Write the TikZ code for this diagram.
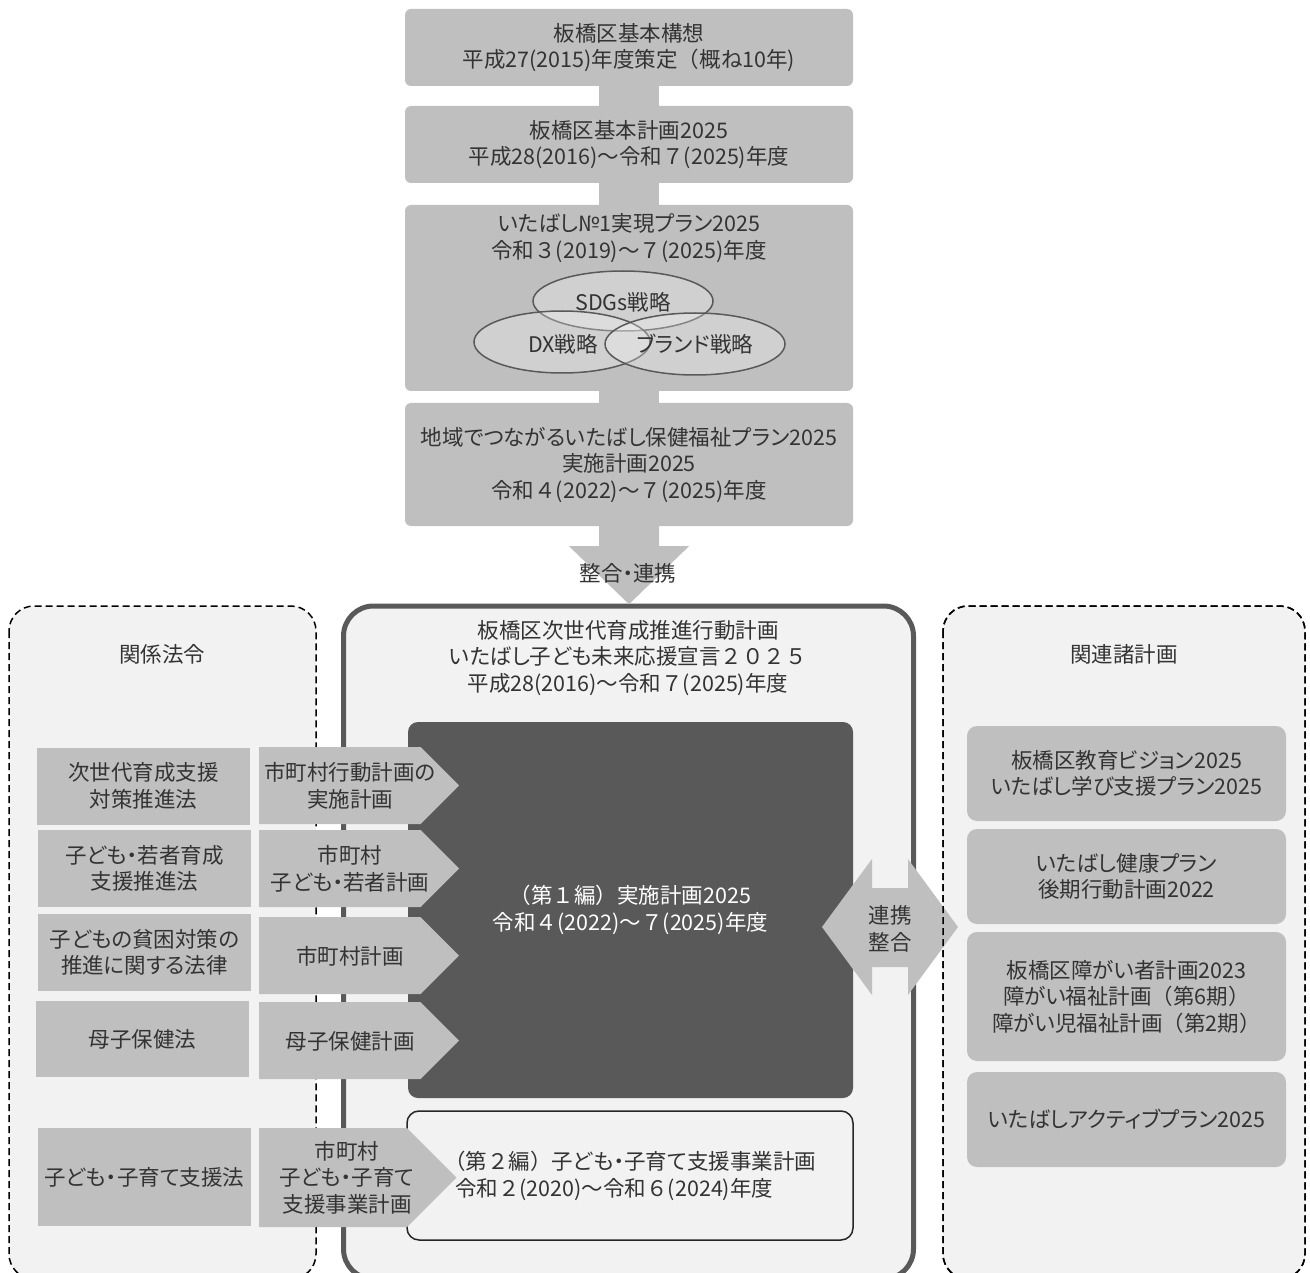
\documentclass[tikz,border=0pt]{standalone}
\usepackage{fontspec}
\newfontfamily\jp[RawFeature={+palt}]{Noto Sans CJK JP}
\newfontfamily\jpf{Noto Sans CJK JP}
\newcommand\fw[1]{{\jpf #1}}
\usetikzlibrary{calc,backgrounds}
\definecolor{boxgray}{HTML}{BFBFBF}
\definecolor{panel}{HTML}{F2F2F2}
\definecolor{dark}{HTML}{595959}
\definecolor{txt}{HTML}{333333}
\tikzset{
  t/.style={font=\jp\fontsize{21.5}{26.5}\selectfont, text=txt, align=center, inner sep=0pt},
  topbox/.style={fill=boxgray, rounded corners=6pt, minimum width=448pt, inner sep=0pt},
  lawbox/.style={fill=boxgray, minimum width=213pt, inner sep=0pt},
  rbox/.style={fill=boxgray, rounded corners=10pt, minimum width=319pt, inner sep=0pt},
  dashpanel/.style={draw=black, line width=1.5pt, dash pattern=on 7pt off 4pt, rounded corners=25pt},
  strat/.style={draw=dark, line width=1.5pt, fill=white, fill opacity=0.27},
}
\begin{document}
\begin{tikzpicture}[x=1pt,y=-1pt]
\useasboundingbox (0,0) rectangle (1310,1273);
\clip (0,0) rectangle (1310,1273);

% side and centre panels
\path[fill=panel, dashpanel] (9,606) rectangle (316,1279);
\path[fill=panel, dashpanel] (943,606) rectangle (1305,1279);
\path[fill=panel, draw=dark, line width=5pt, rounded corners=30pt] (343.5,606) rectangle (913.5,1279);
\node[t] (hl) at (162,654) {関係法令};
\node[t] (hr) at (1124,654) {関連諸計画};
\node[t] (ct) at (628,658) {板橋区次世代育成推進行動計画\\いたばし子ども未来応援宣言\fw{２０２５}\\平成28(2016)\fw{～}令和\fw{７}(2025)年度};

% inner boxes of centre panel
\node[fill=dark, rounded corners=10pt, minimum width=445pt, minimum height=376pt, inner sep=0pt] (d1) at (630.5,910) {};
\node[t, text=white] (d1t) at (630.5,910) {\fw{（}第\fw{１}編\fw{）}実施計画2025\\令和\fw{４}(2022)\fw{～７}(2025)年度};
\node[fill=panel, draw=black!85, line width=1.5pt, rounded corners=12pt, minimum width=446pt, minimum height=129pt, inner sep=0pt] (d2) at (630,1175.5) {};
\node[t, align=left, anchor=west] (d2t) at (444,1176) {\fw{（}第\fw{２}編\fw{）}子ども・子育て支援事業計画\\\hspace*{11pt}令和\fw{２}(2020)\fw{～}令和\fw{６}(2024)年度};

% laws
\node[lawbox, minimum height=77pt] (l1) at (143.5,786) {};
\node[t] at (l1) {次世代育成支援\\対策推進法};
\node[lawbox, minimum height=77pt] (l2) at (144.5,868.5) {};
\node[t] at (l2) {子ども・若者育成\\支援推進法};
\node[lawbox, minimum height=77pt] (l3) at (144.5,952.5) {};
\node[t] at (l3) {子どもの貧困対策の\\推進に関する法律};
\node[lawbox, minimum height=76pt] (l4) at (142.5,1039) {};
\node[t] at (l4) {母子保健法};
\node[lawbox, minimum height=98pt] (l5) at (144.5,1177) {};
\node[t] at (l5) {子ども・子育て支援法};

% municipal plan arrows
\fill[boxgray] (259,747) -- (420.5,747) -- (459,785.5) -- (420.5,824) -- (259,824) -- cycle;
\node[t] (a1) at (350,786) {市町村行動計画の\\実施計画};
\fill[boxgray] (259,830) -- (420.5,830) -- (459,868.5) -- (420.5,907) -- (259,907) -- cycle;
\node[t] (a2) at (350,869) {市町村\\子ども・若者計画};
\fill[boxgray] (259,917) -- (420.5,917) -- (459,955.5) -- (420.5,994) -- (259,994) -- cycle;
\node[t] (a3) at (350,956) {市町村計画};
\fill[boxgray] (259,1002) -- (420.5,1002) -- (459,1040.5) -- (420.5,1079) -- (259,1079) -- cycle;
\node[t] (a4) at (350,1041) {母子保健計画};
\fill[boxgray] (259,1128) -- (407,1128) -- (456.5,1177.5) -- (407,1227) -- (259,1227) -- cycle;
\node[t] (a5) at (347,1177.5) {市町村\\子ども・子育て\\支援事業計画};

% double arrow
\fill[boxgray] (822,927) -- (872,859) -- (872,888) -- (908,888) -- (908,859) -- (958,927) -- (908,995) -- (908,967) -- (872,967) -- (872,995) -- cycle;
\node[t] (lk) at (890,929) {連携\\整合};
\path[dashpanel] (943,606) rectangle (1305,1279);

% related plans
\node[rbox, minimum height=95pt] (r1) at (1126.5,773.5) {};
\node[t] at (r1) {板橋区教育ビジョン2025\\いたばし学び支援プラン2025};
\node[rbox, minimum height=95pt] (r2) at (1126.5,876.5) {};
\node[t] at (r2) {いたばし健康プラン\\後期行動計画2022};
\node[rbox, minimum height=129pt] (r3) at (1126.5,996.5) {};
\node[t] at (r3) {板橋区障がい者計画2023\\障がい福祉計画\fw{（}第6期\fw{）}\\障がい児福祉計画\fw{（}第2期\fw{）}};
\node[rbox, minimum height=95pt] (r4) at (1126.5,1119.5) {};
\node[t] at (r4) {いたばしアクティブプラン2025};

% top chain
\node[topbox, minimum height=77pt] (b1) at (629,47.5) {};
\node[t] at (629,47.5) {板橋区基本構想\\平成27(2015)年度策定\fw{（}概ね10年)};
\node[topbox, minimum height=77pt] (b2) at (629,144.5) {};
\node[t] at (629,144.5) {板橋区基本計画2025\\平成28(2016)\fw{～}令和\fw{７}(2025)年度};
\node[topbox, minimum height=186pt] (b3) at (629,298) {};
\node[t] at (629,238) {いたばし№1実現プラン2025\\令和\fw{３}(2019)\fw{～７}(2025)年度};
\node[topbox, minimum height=123pt] (b4) at (629,464.5) {};
\node[t] at (629,465) {地域でつながるいたばし保健福祉プラン2025\\実施計画2025\\令和\fw{４}(2022)\fw{～７}(2025)年度};
\begin{scope}[on background layer]
  \fill[boxgray] ($(b1.center)+(-30,0)$) rectangle ($(b4.south)+(30,0)$);
\end{scope}
\fill[boxgray] ($(b4.south)+(-30,-1)$) -- ++(0,21) -- ++(-30,0) -- ++(60,58) -- ++(60,-58) -- ++(-30,0) -- ++(0,-21) -- cycle;
\node[t] (ar) at (628,573) {整合・連携};

% strategies
\draw[strat] (623,301) ellipse [x radius=90, y radius=30];
\draw[strat] (562,342) ellipse [x radius=88, y radius=31];
\draw[strat] (695,344) ellipse [x radius=90, y radius=31];
\node[t] (s1) at (623,302) {SDGs戦略};
\node[t] (s2) at (563,344) {DX戦略};
\node[t] (s3) at (695,344) {ブランド戦略};
\end{tikzpicture}
\end{document}
